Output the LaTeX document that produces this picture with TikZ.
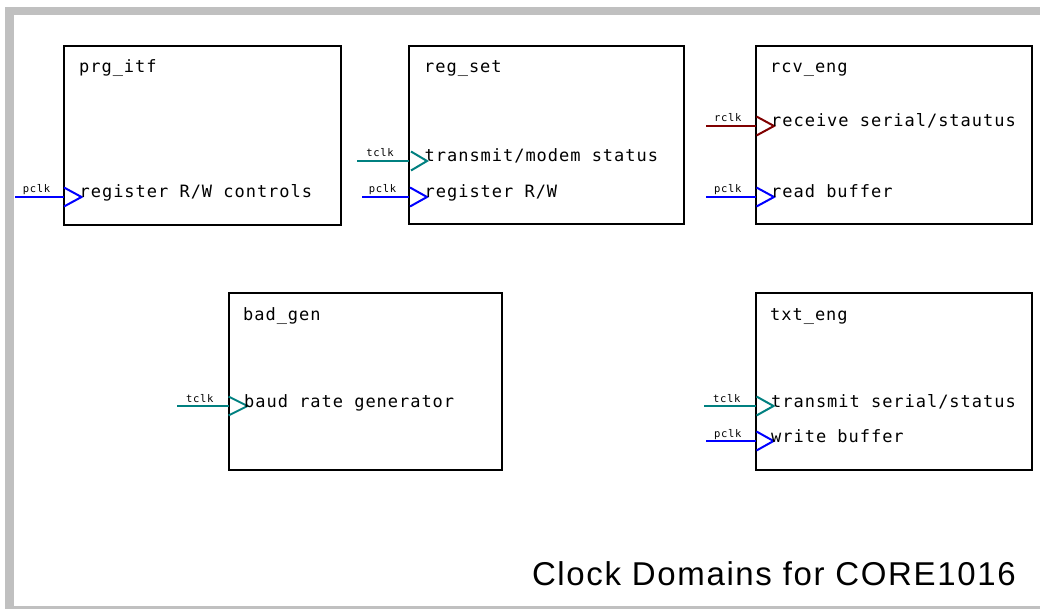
\documentclass[tikz,border=0pt]{standalone}
\usepackage{fontspec}
\setmainfont{Liberation Sans}
\newfontfamily\monofont[LetterSpace=5.7]{DejaVu Sans Mono}
\newfontfamily\smallmonofont[LetterSpace=7]{DejaVu Sans Mono}
\newfontfamily\captionfont[LetterSpace=5]{Liberation Sans}
\definecolor{framegray}{RGB}{192, 192, 192}
\definecolor{pclkblue}{RGB}{0, 0, 255}
\definecolor{tclkteal}{RGB}{0, 128, 128}
\definecolor{rclkred}{RGB}{128, 0, 0}
\usetikzlibrary{positioning}

\tikzset{
  blockbox/.style={draw=black, line width=2pt, fill=white, anchor=north west, inner sep=0pt, outer sep=0pt},
  blocktitle/.style={anchor=base west, inner sep=0pt, font=\monofont\fontsize{17}{20}\selectfont},
  pintext/.style={anchor=base west, inner sep=0pt, xshift=15.5pt, yshift=-1pt, font=\monofont\fontsize{17}{20}\selectfont},
  clklabel/.style={anchor=base, inner sep=0pt, yshift=4pt, xshift=-3pt, font=\smallmonofont\fontsize{10.5}{12}\selectfont},
  pclkwire/.style={draw=pclkblue, line width=2pt},
  tclkwire/.style={draw=tclkteal, line width=2pt},
  rclkwire/.style={draw=rclkred, line width=2pt},
}

\begin{document}
\begin{tikzpicture}[x=1pt, y=-1pt]
  \useasboundingbox (0,0) rectangle (1040,609);

  % Frame
  \fill[framegray] (5,7) rectangle (1040,15.5);
  \fill[framegray] (5,7) rectangle (14,609);
  \fill[framegray] (14,605.5) rectangle (1040,608.5);

  % Blocks
  \node[blockbox, minimum width=277pt, minimum height=178.5pt] (prg) at (64,46.5) {};
  \node[blockbox, minimum width=275pt, minimum height=178pt] (reg) at (409,46.5) {};
  \node[blockbox, minimum width=276pt, minimum height=178pt] (rcv) at (755.5,46.5) {};
  \node[blockbox, minimum width=273pt, minimum height=176.5pt] (bad) at (228.5,293) {};
  \node[blockbox, minimum width=276pt, minimum height=176.5pt] (txt) at (755.5,293) {};

  \node[blocktitle] (prgtitle) at (79,72.5) {prg\_itf};
  \node[blocktitle] (regtitle) at (424,72.5) {reg\_set};
  \node[blocktitle] (rcvtitle) at (770,72.5) {rcv\_eng};
  \node[blocktitle] (badtitle) at (243,320) {bad\_gen};
  \node[blocktitle] (txttitle) at (770,320) {txt\_eng};

  % Clock pins
  \coordinate (prgpclk) at (15,197);
  \coordinate (regtclk) at (357,161);
  \coordinate (regpclk) at (362,197);
  \coordinate (rcvrclk) at (706,126);
  \coordinate (rcvpclk) at (706,197);
  \coordinate (badtclk) at (177,406);
  \coordinate (txttclk) at (704,406);
  \coordinate (txtpclk) at (706,441);

  % prg_itf
  \draw[pclkwire] (prgpclk) -- node[clklabel] (prgpclklbl) {pclk} (prgpclk -| prg.west);
  \draw[pclkwire] (prgpclk -| prg.west) ++(0,-9.5) -- ++(17.5,9.5) -- ++(-17.5,9.5);
  \node[pintext] (prgrw) at (prgpclk -| prg.west) {register R/W controls};

  % reg_set
  \draw[tclkwire] (regtclk) -- node[clklabel] (regtclklbl) {tclk} (regtclk -| reg.west);
  \draw[tclkwire] (regtclk -| reg.west) ++(2,-9.5) -- ++(16,9.5) -- ++(-16,9.5);
  \node[pintext] (regstatus) at (regtclk -| reg.west) {transmit/modem status};
  \draw[pclkwire] (regpclk) -- node[clklabel] (regpclklbl) {pclk} (regpclk -| reg.west);
  \draw[pclkwire] (regpclk -| reg.west) ++(1,-9.5) -- ++(17,9.5) -- ++(-17,9.5);
  \node[pintext] (regrw) at (regpclk -| reg.west) {register R/W};

  % rcv_eng
  \draw[rclkwire] (rcvrclk) -- node[clklabel] (rcvrclklbl) {rclk} (rcvrclk -| rcv.west);
  \draw[rclkwire] (rcvrclk -| rcv.west) ++(1,-9.5) -- ++(17.5,9.5) -- ++(-17.5,9.5);
  \node[pintext] (rcvserial) at (rcvrclk -| rcv.west) {receive serial/stautus};
  \draw[pclkwire] (rcvpclk) -- node[clklabel] (rcvpclklbl) {pclk} (rcvpclk -| rcv.west);
  \draw[pclkwire] (rcvpclk -| rcv.west) ++(1,-9.5) -- ++(17.5,9.5) -- ++(-17.5,9.5);
  \node[pintext] (rcvbuffer) at (rcvpclk -| rcv.west) {read buffer};

  % bad_gen
  \draw[tclkwire] (badtclk) -- node[clklabel] (badtclklbl) {tclk} (badtclk -| bad.west);
  \draw[tclkwire] (badtclk -| bad.west) ++(0,-9.5) -- ++(19,9.5) -- ++(-19,9.5);
  \node[pintext] (badbaud) at (badtclk -| bad.west) {baud rate generator};

  % txt_eng
  \draw[tclkwire] (txttclk) -- node[clklabel] (txttclklbl) {tclk} (txttclk -| txt.west);
  \draw[tclkwire] (txttclk -| txt.west) ++(1,-9.5) -- ++(17,9.5) -- ++(-17,9.5);
  \node[pintext] (txtserial) at (txttclk -| txt.west) {transmit serial/status};
  \draw[pclkwire] (txtpclk) -- node[clklabel] (txtpclklbl) {pclk} (txtpclk -| txt.west);
  \draw[pclkwire] (txtpclk -| txt.west) ++(1,-9.5) -- ++(17,9.5) -- ++(-17,9.5);
  \node[pintext] (txtbuffer) at (txtpclk -| txt.west) {write buffer};

  % Caption
  \node[anchor=base east, inner sep=0pt, font=\captionfont\fontsize{33}{38}\selectfont] (caption) at (1016,585) {Clock Domains for CORE1016};
\end{tikzpicture}
\end{document}
